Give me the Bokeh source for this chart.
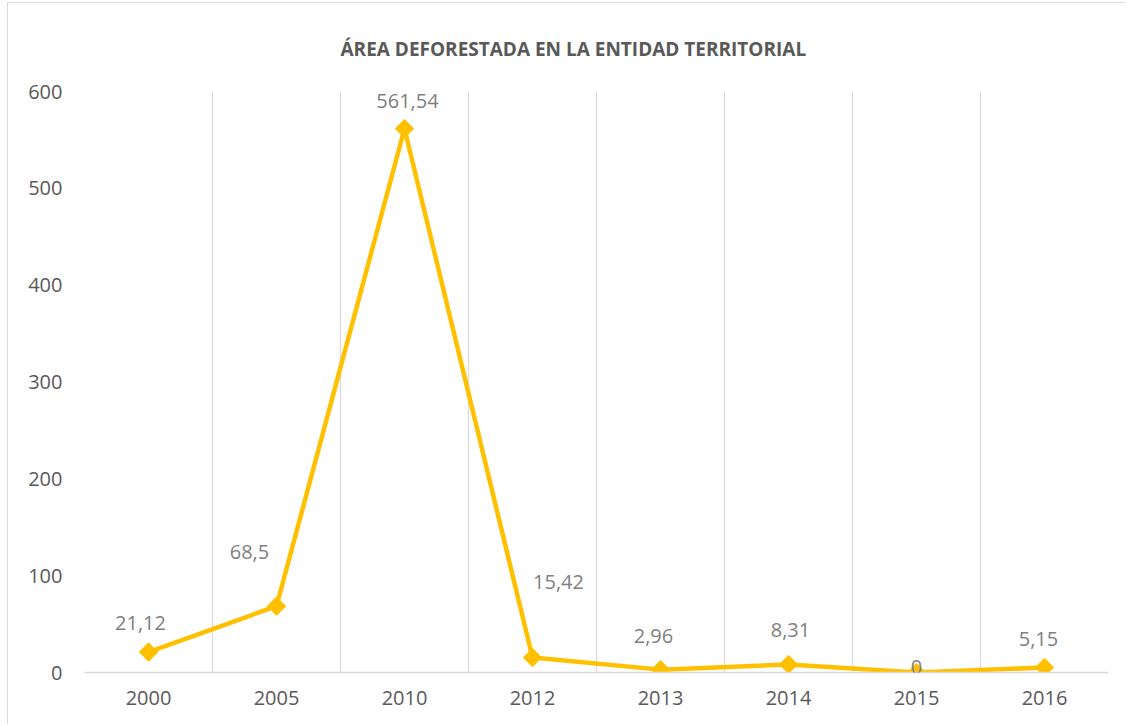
from bokeh.plotting import figure
from bokeh.models import FixedTicker, ColumnDataSource, Range1d, LabelSet
from bokeh.embed import file_html
from bokeh.resources import INLINE
from bokeh.core.properties import value

# ---- data ----
years = ["2000", "2005", "2010", "2012", "2013", "2014", "2015", "2016"]
area = [21.12, 68.5, 561.54, 15.42, 2.96, 8.31, 0, 5.15]
y_ticks = [0, 100, 200, 300, 400, 500, 600]
title_text = "ÁREA DEFORESTADA EN LA ENTIDAD TERRITORIAL"

# ---- label placement (style, screen pixels) ----
label_dx = [-8, -27, 3, 26, -7, 2, 0, -6]
label_dy = [-29, -54, -28, -76, -34, -34, -6, -29]

labels = [f"{v:g}".replace(".", ",") for v in area]
xpos = [i + 0.5 for i in range(len(years))]

src = ColumnDataSource(dict(x=xpos, y=area, lab=labels, dx=label_dx,
                            dy=[-d for d in label_dy]))

FONT = "Open Sans"
GRID = "#D9D9D9"

p = figure(width=1118, height=722, output_backend="svg", toolbar_location=None,
           x_range=Range1d(0, len(years)), y_range=Range1d(0, 600),
           min_border_left=76, min_border_right=18, min_border_top=86, min_border_bottom=53)
p.styles = {"border-top": "1px solid #D9D9D9", "border-left": "1px solid #D9D9D9",
            "margin-left": "7px", "margin-top": "2px"}

p.title.text = title_text
p.title.align = "left"
p.title.offset = 256
p.title.standoff = 60
p.title.text_font = FONT
p.title.text_font_size = "19px"
p.title.text_font_style = "bold"
p.title.text_color = "#595959"

p.outline_line_color = None
p.background_fill_color = "white"
p.border_fill_color = "white"

# x axis
p.xaxis.ticker = FixedTicker(ticks=xpos)
p.xaxis.major_label_overrides = {x: y for x, y in zip(xpos, years)}
p.xaxis.major_tick_line_color = None
p.xaxis.minor_tick_line_color = None
p.xaxis.axis_line_color = GRID
p.xaxis.axis_line_width = 1.5
p.xaxis.major_label_text_font = FONT
p.xaxis.major_label_text_font_size = "20px"
p.xaxis.major_label_text_color = "#595959"
p.xaxis.major_label_standoff = 12

# y axis
p.yaxis.ticker = FixedTicker(ticks=y_ticks)
p.yaxis.major_tick_line_color = None
p.yaxis.minor_tick_line_color = None
p.yaxis.axis_line_color = None
p.yaxis.major_label_text_font = FONT
p.yaxis.major_label_text_font_size = "20px"
p.yaxis.major_label_text_color = "#595959"
p.yaxis.major_label_standoff = 16

# grids
p.ygrid.grid_line_color = None
p.xgrid.ticker = FixedTicker(ticks=list(range(len(years) + 1)))
p.xgrid.grid_line_color = GRID
p.xgrid.grid_line_width = 1.2

# series
p.line("x", "y", source=src, line_color="#FFC000", line_width=4.5)
p.scatter("x", "y", source=src, marker="square", angle=0.785398, size=13,
          fill_color="#FFC000", line_color="#FFC000")
p.add_layout(LabelSet(x="x", y="y", text="lab", source=src, x_offset="dx", y_offset="dy",
                      text_font=value(FONT), text_font_size=value("20px"),
                      text_color="#7F7F7F", text_align="center", text_baseline="middle"))

open("out.html", "w").write(file_html(p, INLINE))
